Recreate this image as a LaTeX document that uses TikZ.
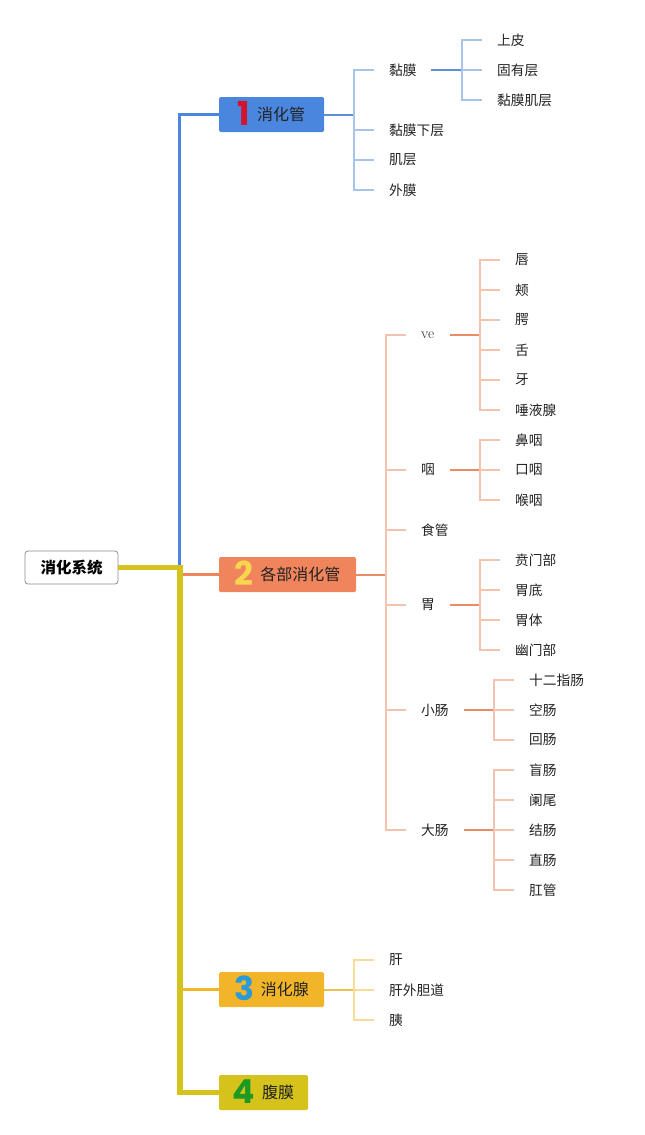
\documentclass[tikz,border=0pt]{standalone}
\usepackage{fontspec}
\newfontfamily\cjk{Noto Sans CJK SC}
\newfontfamily\numf{Poppins}
\definecolor{blueB}{HTML}{4A86DE}
\definecolor{blueM}{HTML}{5D8FD5}
\definecolor{blueL}{HTML}{A9C4EA}
\definecolor{orB}{HTML}{F0845C}
\definecolor{orM}{HTML}{E98C66}
\definecolor{orL}{HTML}{F4C3AF}
\definecolor{yeB}{HTML}{F2B52A}
\definecolor{yeM}{HTML}{EFC050}
\definecolor{yeL}{HTML}{F6DC98}
\definecolor{olive}{HTML}{D5C31C}
\definecolor{numA}{HTML}{D3142F}
\definecolor{numB}{HTML}{F7D54E}
\definecolor{numC}{HTML}{2A9AD9}
\definecolor{numD}{HTML}{1C9A22}
\definecolor{txt}{HTML}{222222}
\newcommand\boxnum[2]{\smash{\raisebox{-5pt}{\numf\bfseries\fontsize{33}{33}\selectfont\color{#1}#2}}\hspace{7pt}}
\begin{document}
\begin{tikzpicture}[x=1pt,y=-1pt,
  leaf/.style={anchor=west,inner sep=0pt,font=\cjk\fontsize{13.7}{14}\selectfont,text=txt},
  box/.style={rectangle,rounded corners=1.5pt,minimum height=35pt,inner sep=0pt,font=\cjk\fontsize{16}{17}\selectfont,text=txt},
  tick/.style={line width=1.5pt},
  mid/.style={line width=2pt}
]
\useasboundingbox (0,0) rectangle (645,1135);

% root
\node[draw=black!45,line width=0.8pt,rounded corners=3pt,minimum width=93pt,minimum height=33pt,inner sep=0pt,font=\cjk\bfseries\fontsize{15.5}{16}\selectfont,text=black] (root) at (71.5,567.5) {消化系统};

% main boxes
\node[box,fill=blueB,minimum width=105pt] (b1) at (271.5,114.5) {\boxnum{numA}{1}消化管};
\node[box,fill=orB,minimum width=137pt] (b2) at (287.5,574.5) {\boxnum{numB}{2}各部消化管};
\node[box,fill=yeB,minimum width=105pt] (b3) at (271.5,989.5) {\boxnum{numC}{3}消化腺};
\node[box,fill=olive,minimum width=89pt] (b4) at (263.5,1092.5) {\boxnum{numD}{4}腹膜};

% trunk
\coordinate (J) at (180,567.5);
\coordinate (Jb) at (179.5,567.5);
\coordinate (J2) at (182,574.5);
\coordinate (J3) at (182,989.5);
\draw[blueB,line width=3pt] (Jb) |- (b1.west);
\draw[orB,line width=2.5pt] (J2) -- (b2.west);
\draw[yeB,line width=3pt] (J3) -- (b3.west);
\draw[olive,line width=5.5pt] (root.east) -- (J) |- (b4.west);

% ---------- branch 1
\node[leaf] (n11) at (389,70) {黏膜};
\node[leaf] (n12) at (389,130) {黏膜下层};
\node[leaf] (n13) at (389,160) {肌层};
\node[leaf] (n14) at (389,190) {外膜};
\coordinate (k1) at (354,114.5);
\draw[blueM,mid] (b1.east) -- (k1);
\foreach \c in {n11,n12,n13,n14} \draw[blueL,tick] (k1) |- ([xshift=-15pt]\c.west);

\node[leaf] (n111) at (497,40) {上皮};
\node[leaf] (n112) at (497,70) {固有层};
\node[leaf] (n113) at (497,100) {黏膜肌层};
\coordinate (k11) at (462,70);
\draw[blueM,mid] ([xshift=14pt]n11.east) -- (k11);
\foreach \c in {n111,n112,n113} \draw[blueL,tick] (k11) |- ([xshift=-15pt]\c.west);

% ---------- branch 2
\node[leaf,font=\fontsize{15}{15}\selectfont] (n21) at (421,335) {ve};
\node[leaf] (n22) at (421,470) {咽};
\node[leaf] (n23) at (421,530) {食管};
\node[leaf] (n24) at (421,605) {胃};
\node[leaf] (n25) at (421,710) {小肠};
\node[leaf] (n26) at (421,830) {大肠};
\coordinate (k2) at (386,574.5);
\draw[orM,mid] (b2.east) -- (k2);
\foreach \c in {n21,n22,n23,n24,n25,n26} \draw[orL,tick] (k2) |- ([xshift=-15pt]\c.west);

% ve
\node[leaf] (n211) at (515,260) {唇};
\node[leaf] (n212) at (515,290) {颊};
\node[leaf] (n213) at (515,320) {腭};
\node[leaf] (n214) at (515,350) {舌};
\node[leaf] (n215) at (515,380) {牙};
\node[leaf] (n216) at (515,410) {唾液腺};
\coordinate (k21) at (480,335);
\draw[orM,mid] ([xshift=16pt]n21.east) -- (k21);
\foreach \c in {n211,n212,n213,n214,n215,n216} \draw[orL,tick] (k21) |- ([xshift=-15pt]\c.west);

% 咽
\node[leaf] (n221) at (515,440) {鼻咽};
\node[leaf] (n222) at (515,470) {口咽};
\node[leaf] (n223) at (515,500) {喉咽};
\coordinate (k22) at (480,470);
\draw[orM,mid] ([xshift=15pt]n22.east) -- (k22);
\foreach \c in {n221,n222,n223} \draw[orL,tick] (k22) |- ([xshift=-15pt]\c.west);

% 胃
\node[leaf] (n241) at (515,560) {贲门部};
\node[leaf] (n242) at (515,590) {胃底};
\node[leaf] (n243) at (515,620) {胃体};
\node[leaf] (n244) at (515,650) {幽门部};
\coordinate (k24) at (480,605);
\draw[orM,mid] ([xshift=15pt]n24.east) -- (k24);
\foreach \c in {n241,n242,n243,n244} \draw[orL,tick] (k24) |- ([xshift=-15pt]\c.west);

% 小肠
\node[leaf] (n251) at (529,680) {十二指肠};
\node[leaf] (n252) at (529,710) {空肠};
\node[leaf] (n253) at (529,740) {回肠};
\coordinate (k25) at (494,710);
\draw[orM,mid] ([xshift=15pt]n25.east) -- (k25);
\foreach \c in {n251,n252,n253} \draw[orL,tick] (k25) |- ([xshift=-15pt]\c.west);

% 大肠
\node[leaf] (n261) at (529,770) {盲肠};
\node[leaf] (n262) at (529,800) {阑尾};
\node[leaf] (n263) at (529,830) {结肠};
\node[leaf] (n264) at (529,860) {直肠};
\node[leaf] (n265) at (529,890) {肛管};
\coordinate (k26) at (494,830);
\draw[orM,mid] ([xshift=15pt]n26.east) -- (k26);
\foreach \c in {n261,n262,n263,n264,n265} \draw[orL,tick] (k26) |- ([xshift=-15pt]\c.west);

% ---------- branch 3
\node[leaf] (n31) at (389,960) {肝};
\node[leaf] (n32) at (389,990) {肝外胆道};
\node[leaf] (n33) at (389,1020) {胰};
\coordinate (k3) at (354,989.5);
\draw[yeM,mid] (b3.east) -- (k3);
\foreach \c in {n31,n32,n33} \draw[yeL,tick] (k3) |- ([xshift=-15pt]\c.west);
\end{tikzpicture}
\end{document}
